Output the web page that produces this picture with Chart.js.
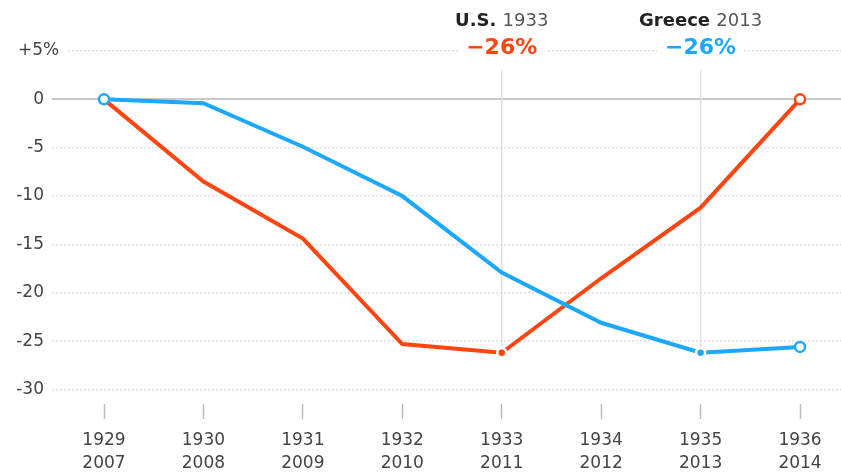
<!DOCTYPE html>
<html>
<head>
<meta charset="utf-8">
<script src="https://cdn.jsdelivr.net/npm/chart.js@4/dist/chart.umd.min.js"></script>
<style>
  html, body { margin: 0; padding: 0; background: #fff; }
  #wrap { width: 841px; height: 474px; position: relative; }
</style>
</head>
<body>
<div id="wrap"><canvas id="chart"></canvas></div>
<script>
// categories
const usYears = ["1929", "1930", "1931", "1932", "1933", "1934", "1935", "1936"];
const greeceYears = ["2007", "2008", "2009", "2010", "2011", "2012", "2013", "2014"];

// series values (% change from start)
const usValues = [0, -8.5, -14.4, -25.3, -26.2, -18.5, -11.2, 0];
const greeceValues = [0, -0.4, -4.9, -10, -17.9, -23.1, -26.2, -25.6];

// y tick labels
const yTicks = [5, 0, -5, -10, -15, -20, -25, -30];

// callouts: which point, header parts and the figure shown
const calloutIndex = [4, 6];
const calloutName = ["U.S.", "Greece"];
const calloutYear = ["1933", "2013"];
const calloutText = ["\u221226%", "\u221226%"];

const RED = "#ff4510";
const BLUE = "#1da8ff";
const FONT = "'DejaVu Sans', sans-serif";

const toPoints = (vals) => vals.map((v, i) => ({ x: i, y: v }));

// markers: open circle at ends, solid dot at the trough
const markerRadius = (open, solid) => (ctx) =>
  open.includes(ctx.dataIndex) ? 5 : solid.includes(ctx.dataIndex) ? 4.5 : 0;
const markerFill = (open, color) => (ctx) =>
  open.includes(ctx.dataIndex) ? "#fff" : color;
const markerBorder = (open, color) => (ctx) =>
  open.includes(ctx.dataIndex) ? color : "#fff";

const callouts = {
  id: "callouts",
  beforeDatasetsDraw(chart) {
    const { ctx, scales } = chart;
    const sets = [usValues, greeceValues];
    ctx.save();
    calloutIndex.forEach((idx, k) => {
      const x = scales.x.getPixelForValue(idx);
      const y = scales.y.getPixelForValue(sets[k][idx]);
      ctx.strokeStyle = "#e0e0e0";
      ctx.lineWidth = 1.5;
      ctx.beginPath();
      ctx.moveTo(x, 70);
      ctx.lineTo(x, y);
      ctx.stroke();
    });
    ctx.restore();
  },
  afterDraw(chart) {
    const { ctx, scales } = chart;
    const colors = [RED, BLUE];
    ctx.save();
    ctx.textBaseline = "middle";

    // top y label, with the % hanging past the other labels
    const yTop = scales.y.getPixelForValue(yTicks[0]);
    ctx.font = "17px " + FONT;
    ctx.fillStyle = "#fff";
    ctx.fillRect(16, yTop - 10, 52, 20);
    ctx.fillStyle = "#444";
    ctx.textAlign = "left";
    ctx.fillText("+" + yTicks[0] + "%", 18, yTop);

    calloutIndex.forEach((idx, k) => {
      const x = scales.x.getPixelForValue(idx);

      // header: bold name + regular year
      const bold = "bold 18px " + FONT;
      const reg = "18px " + FONT;
      ctx.font = bold;
      const w1 = ctx.measureText(calloutName[k] + " ").width;
      ctx.font = reg;
      const w2 = ctx.measureText(calloutYear[k]).width;
      const left = x - (w1 + w2) / 2;
      ctx.textAlign = "left";
      ctx.fillStyle = "#222";
      ctx.font = bold;
      ctx.fillText(calloutName[k] + " ", left, 21);
      ctx.fillStyle = "#555";
      ctx.font = reg;
      ctx.fillText(calloutYear[k], left + w1, 21);

      // big figure, with white behind it to break the grid line
      ctx.font = "bold 22px " + FONT;
      const w = ctx.measureText(calloutText[k]).width;
      ctx.fillStyle = "#fff";
      ctx.fillRect(x - w / 2 - 8, 37, w + 16, 22);
      ctx.fillStyle = colors[k];
      ctx.textAlign = "center";
      ctx.fillText(calloutText[k], x, 48);
    });
    ctx.restore();
  },
};

new Chart(document.getElementById("chart"), {
  type: "line",
  data: {
    datasets: [
      {
        label: "Greece",
        data: toPoints(greeceValues),
        borderColor: BLUE,
        borderWidth: 4,
        pointRadius: markerRadius([0, 7], [6]),
        pointBorderWidth: 2.5,
        pointBackgroundColor: markerFill([0, 7], BLUE),
        pointBorderColor: markerBorder([0, 7], BLUE),
        tension: 0,
      },
      {
        label: "U.S.",
        data: toPoints(usValues),
        borderColor: RED,
        borderWidth: 4,
        pointRadius: markerRadius([7], [4]),
        pointBorderWidth: 2.5,
        pointBackgroundColor: markerFill([7], RED),
        pointBorderColor: markerBorder([7], RED),
        tension: 0,
      },
    ],
  },
  options: {
    responsive: true,
    maintainAspectRatio: false,
    animation: false,
    layout: { autoPadding: false, padding: { top: 51, right: 0, bottom: 0, left: 0 } },
    plugins: { legend: { display: false }, tooltip: { enabled: false } },
    scales: {
      x: {
        type: "linear",
        min: -0.523,
        max: 7.412,
        afterBuildTicks: (axis) => {
          axis.ticks = usYears.map((_, i) => ({ value: i }));
        },
        afterFit: (axis) => {
          axis.height = 70;
          axis.paddingLeft = 0;
          axis.paddingRight = 0;
        },
        grid: {
          drawOnChartArea: false,
          drawTicks: true,
          tickLength: 15,
          tickColor: "#bbb",
          tickWidth: 1.5,
        },
        border: { display: false },
        ticks: {
          padding: 10,
          color: "#444",
          font: { family: FONT, size: 17, lineHeight: 1.35 },
          maxRotation: 0,
          autoSkip: false,
          callback: (v) => [usYears[v], greeceYears[v]],
        },
      },
      y: {
        min: -31.5,
        max: 5,
        afterBuildTicks: (axis) => {
          axis.ticks = yTicks.map((v) => ({ value: v }));
        },
        afterFit: (axis) => { axis.width = 52; },
        grid: {
          drawTicks: false,
          color: (c) => (c.tick && c.tick.value === 0 ? "#c8c8c8" : "#e0e0e0"),
          lineWidth: (c) => (c.tick && c.tick.value === 0 ? 2 : 1.5),
        },
        border: {
          display: false,
          dash: (c) => (c.tick && c.tick.value === 0 ? [] : [2, 2]),
        },
        ticks: {
          padding: 8,
          color: "#444",
          font: { family: FONT, size: 17 },
          callback: (v) => (v === yTicks[0] ? "" : String(v)),
        },
      },
    },
  },
  plugins: [callouts],
});
</script>
</body>
</html>
